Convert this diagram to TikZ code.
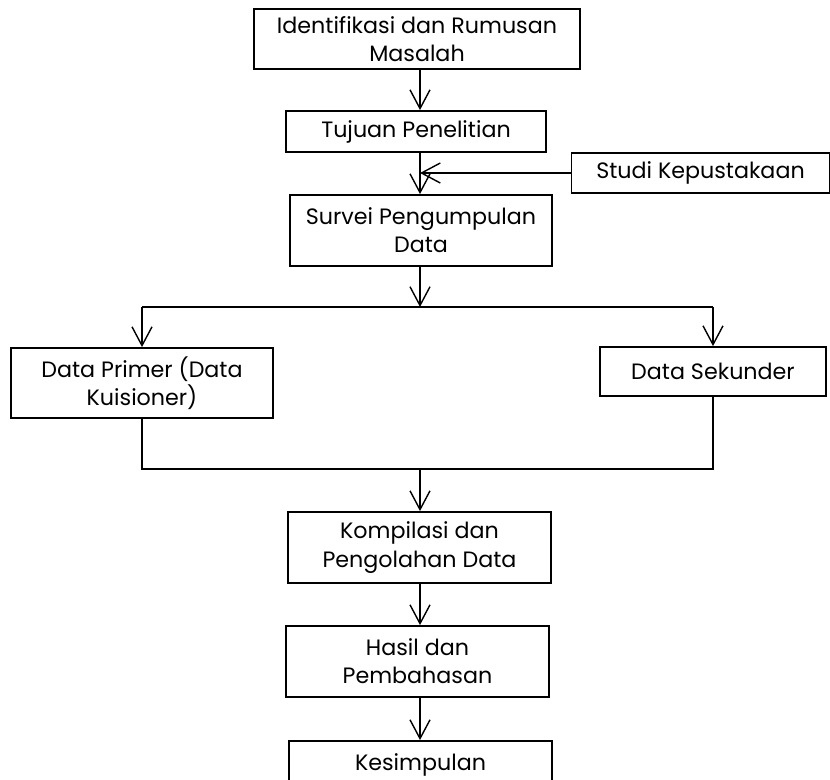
\documentclass[tikz,border=0pt]{standalone}
\usepackage{fontspec}
\setmainfont{Poppins}
\usepackage{tikz}
\usetikzlibrary{arrows.meta}
\usetikzlibrary{shapes,positioning}
\tikzset{>={Straight Barb[length=4.7mm,width=5mm]}}

\begin{document}
\begin{tikzpicture}[x=0.025cm,y=-0.025cm,
  kotak/.style={draw,line width=1.3pt,align=center,inner sep=0pt,
    font=\fontsize{15.8}{20}\selectfont},
  panah/.style={->,line width=1pt}]

  \clip (0,0) rectangle (830,779);

  \node [kotak,minimum width=8.15cm,minimum height=1.5cm] (ident) at (417,39)
    {Identifikasi dan Rumusan\\Masalah};
  \node [kotak,minimum width=6.5cm,minimum height=1.025cm] (tujuan) at (416,131.5)
    {Tujuan Penelitian};
  \node [kotak,minimum width=6.45cm,minimum height=1cm] (studi) at (700.5,173)
    {Studi Kepustakaan};
  \node [kotak,minimum width=6.55cm,minimum height=1.775cm] (survei) at (421,230.5)
    {Survei Pengumpulan\\Data};

  \node [kotak,minimum width=6.55cm,minimum height=1.75cm] (primer) at (142,383)
    {Data Primer (Data\\Kuisioner)};
  \node [kotak,minimum width=5.65cm,minimum height=1.225cm] (sekunder) at (713,371.5)
    {Data Sekunder};

  \node [kotak,minimum width=6.575cm,minimum height=1.775cm] (kompilasi) at (419.5,547.5)
    {Kompilasi dan\\Pengolahan Data};
  \node [kotak,minimum width=6.575cm,minimum height=1.775cm] (hasil) at (417.5,661.5)
    {Hasil dan\\Pembahasan};
  \node [kotak,minimum width=6.575cm,minimum height=1.75cm] (simpul) at (420.5,776)
    {Kesimpulan\\\mbox{}};

  \coordinate (cabang) at (420,307);
  \coordinate (gabung) at (420,469);

  \draw [panah] (ident.south -| 420,0) -- (tujuan.north -| 420,0);
  \draw [panah] (tujuan.south -| 420,0) -- (survei.north -| 420,0);
  \draw [panah] (studi.west) -- (studi.west -| 420,0);
  \draw [panah] (survei.south -| cabang) -- (cabang);

  \draw [line width=1pt] (primer.north |- cabang) -- (sekunder.north |- cabang);
  \draw [panah] (primer.north |- cabang) -- (primer.north);
  \draw [panah] (sekunder.north |- cabang) -- (sekunder.north);

  \draw [line width=1pt] (primer.south) -- (primer.south |- gabung)
    -- (sekunder.south |- gabung) -- (sekunder.south);
  \draw [panah] (gabung) -- (kompilasi.north -| gabung);

  \draw [panah] (kompilasi.south -| gabung) -- (hasil.north -| gabung);
  \draw [panah] (hasil.south -| gabung) -- (simpul.north -| gabung);

\end{tikzpicture}
\end{document}
